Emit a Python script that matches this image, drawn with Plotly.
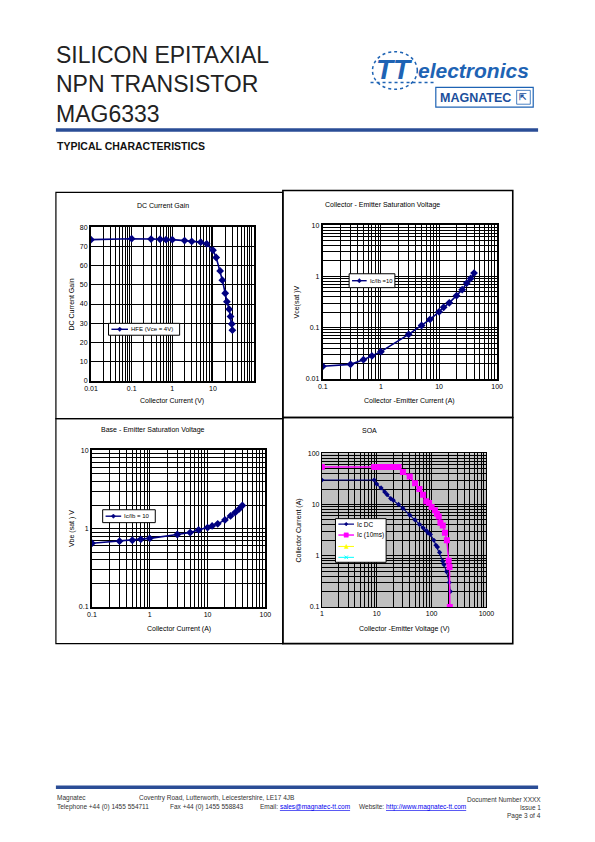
import math
import plotly.graph_objects as go

# page is 595x842; the figure sits inside the page body's default 8px margin
PAGE_W, PAGE_H = 595, 842
OFF = 8
W, H = PAGE_W - 2 * OFF, PAGE_H - 2 * OFF

# ---------------- data ----------------
hfe_ic = [0.01, 0.1, 0.3, 0.5, 0.7, 1, 2, 3, 5, 7, 10, 12, 15, 17, 20, 22, 25, 27, 29, 30]
hfe_val = [73.5, 74.0, 73.8, 73.7, 73.5, 73.5, 73.0, 72.6, 72.2, 71.3, 68.0, 64.2, 57.2, 52.4,
           45.6, 41.2, 37.3, 33.5, 29.6, 26.4]

vce_ic = [0.1, 0.3, 0.5, 0.7, 1, 3, 5, 7, 10, 12, 15, 20, 25, 30, 35, 40]
vce_sat = [0.0176, 0.0192, 0.0237, 0.028, 0.034, 0.074, 0.11, 0.145, 0.204, 0.25, 0.305,
           0.42, 0.55, 0.74, 0.915, 1.16]

vbe_ic = [0.1, 0.3, 0.5, 0.7, 1, 3, 5, 7, 10, 12, 15, 20, 25, 30, 35, 40]
vbe_sat = [0.65, 0.69, 0.71, 0.73, 0.75, 0.84, 0.89, 0.96, 1.03, 1.08, 1.15, 1.29, 1.45,
           1.60, 1.77, 1.97]

soa_dc_v = [1, 9, 10, 12, 14, 15.5, 18, 20, 25, 30, 40, 50, 60, 70, 80, 86, 95, 110, 120,
            128, 140, 160, 168, 187, 210, 220]
soa_dc_i = [30, 30, 25, 21, 17.6, 15.5, 13, 12.1, 10, 8.4, 6.2, 5.0, 4.1, 3.5, 3.1, 2.8, 2.6,
            2.0, 1.6, 1.47, 1.16, 0.78, 0.67, 0.49, 0.30, 0.20]

soa_10ms_v = [1, 9, 10, 11, 12, 13, 14, 15, 16, 18, 20, 25, 30, 40, 50, 60, 70, 80, 90, 100,
              115, 125, 135, 145, 160, 175, 190, 205, 212, 215]
soa_10ms_i = [54, 54, 54, 54, 54, 54, 54, 54, 54, 54, 54, 54, 43, 35, 26, 20, 15.5, 11.5, 10.7,
              8.9, 7.7, 6.6, 5.8, 4.4, 3.9, 2.8, 2.0, 0.8, 0.6, 0.1]

soa_s3_v, soa_s3_i = [], []
soa_s4_v, soa_s4_i = [], []

chart_titles = ["DC Current Gain", "Collector - Emitter Saturation Voltage",
                "Base - Emitter Saturation Voltage", "SOA"]
x_titles = ["Collector Current (V)", "Collector -Emitter Current (A)",
            "Collector Current (A)", "Collector -Emitter Voltage (V)"]
y_titles = ["DC Current Gain", "Vce(sat )V", "Vbe (sat ) V", "Collector Current (A)"]
series_names = ["HFE (Vce = 4V)", "Ic/Ib =10", "Ic/Ib = 10", "Ic DC", "Ic (10ms)", "", ""]

x1_ticks = [0.01, 0.1, 1, 10]
x1_labels = ["0.01", "0.1", "1", "10"]
y1_ticks = [0, 10, 20, 30, 40, 50, 60, 70, 80]
x2_ticks = [0.1, 1, 10, 100]
x2_labels = ["0.1", "1", "10", "100"]
y2_ticks = [0.01, 0.1, 1, 10]
y2_labels = ["0.01", "0.1", "1", "10"]
y3_ticks = [0.1, 1, 10]
y3_labels = ["0.1", "1", "10"]
x4_ticks = [1, 10, 100, 1000]
x4_labels = ["1", "10", "100", "1000"]
y4_ticks = [0.1, 1, 10, 100]
y4_labels = ["0.1", "1", "10", "100"]

NAVY = "#000080"
MAG = "#FF00FF"
BLUE = "#2a4d96"
LOGO = "#1e63b4"
FONT = "Liberation Sans, Arial, sans-serif"


def X(p):
    return (p - OFF) / W


def Y(p):
    return 1 - (p - OFF) / H


def minor_vals(lo, hi):
    vals = []
    for e in range(int(round(math.log10(lo))), int(round(math.log10(hi)))):
        for m in range(2, 10):
            vals.append(m * 10 ** e)
    return vals


fig = go.Figure()

# plot area boxes in page pixel coords (x0, x1, y0(top), y1(bottom))
boxes = [(86, 253, 225, 380), (324, 503, 223, 378), (87, 265, 450, 608), (323, 492, 453, 608)]

fig.add_trace(go.Scatter(x=hfe_ic, y=hfe_val, mode="lines+markers", xaxis="x", yaxis="y",
                         line=dict(color=NAVY, width=1.6),
                         marker=dict(symbol="diamond", size=6, color=NAVY), showlegend=False))
fig.add_trace(go.Scatter(x=vce_ic, y=vce_sat, mode="lines+markers", xaxis="x2", yaxis="y2",
                         line=dict(color=NAVY, width=1.6),
                         marker=dict(symbol="diamond", size=6, color=NAVY), showlegend=False))
fig.add_trace(go.Scatter(x=vbe_ic, y=vbe_sat, mode="lines+markers", xaxis="x3", yaxis="y3",
                         line=dict(color=NAVY, width=1.6),
                         marker=dict(symbol="diamond", size=6, color=NAVY), showlegend=False))
fig.add_trace(go.Scatter(x=soa_dc_v, y=soa_dc_i, mode="lines+markers", xaxis="x4", yaxis="y4",
                         line=dict(color=NAVY, width=1.1),
                         marker=dict(symbol="diamond", size=4, color=NAVY), showlegend=False))
fig.add_trace(go.Scatter(x=soa_10ms_v, y=soa_10ms_i, mode="lines+markers", xaxis="x4", yaxis="y4",
                         line=dict(color=MAG, width=1.5),
                         marker=dict(symbol="square", size=6, color=MAG), showlegend=False))
fig.add_trace(go.Scatter(x=soa_s3_v, y=soa_s3_i, mode="lines+markers", xaxis="x4", yaxis="y4",
                         line=dict(color="#FFFF00", width=1),
                         marker=dict(symbol="triangle-up", size=5, color="#FFFF00"), showlegend=False))
fig.add_trace(go.Scatter(x=soa_s4_v, y=soa_s4_i, mode="lines+markers", xaxis="x4", yaxis="y4",
                         line=dict(color="#00FFFF", width=1),
                         marker=dict(symbol="x", size=5, color="#00FFFF"), showlegend=False))

tickfont = dict(family=FONT, size=7, color="black")


def ax(domain, log, rng, tickvals, ticktext, minor=None, lw=2):
    d = dict(domain=domain, type="log" if log else "linear", range=rng,
             tickmode="array", tickvals=tickvals, ticktext=ticktext,
             showgrid=True, gridcolor="black", gridwidth=0.7,
             showline=True, mirror=True, linecolor="black", linewidth=lw,
             ticks="", tickfont=tickfont, zeroline=False, fixedrange=True)
    if minor is not None:
        d["minor"] = dict(tickmode="array", tickvals=minor, showgrid=True,
                          gridcolor="black", gridwidth=0.5, ticks="")
    return d


def xd(b):
    return [X(b[0]), X(b[1])]


def yd(b):
    return [Y(b[3]), Y(b[2])]


layout = dict(
    width=W, height=H, autosize=False, margin=dict(l=0, r=0, t=0, b=0, pad=0),
    paper_bgcolor="white", plot_bgcolor="white", showlegend=False,
    font=dict(family=FONT, size=7, color="black"),
    xaxis=ax(xd(boxes[0]), True, [-2, 2], x1_ticks, x1_labels, minor_vals(0.01, 100)),
    yaxis=ax(yd(boxes[0]), False, [0, 80], y1_ticks, [str(v) for v in y1_ticks]),
    xaxis2=ax(xd(boxes[1]), True, [-1, 2], x2_ticks, x2_labels, minor_vals(0.1, 100)),
    yaxis2=ax(yd(boxes[1]), True, [-2, 1], y2_ticks, y2_labels, minor_vals(0.01, 10)),
    xaxis3=ax(xd(boxes[2]), True, [-1, 2], x2_ticks, x2_labels, minor_vals(0.1, 100)),
    yaxis3=ax(yd(boxes[2]), True, [-1, 1], y3_ticks, y3_labels, minor_vals(0.1, 10)),
    xaxis4=ax(xd(boxes[3]), True, [0, 3], x4_ticks, x4_labels, minor_vals(1, 1000), lw=1),
    yaxis4=ax(yd(boxes[3]), True, [-1, 2], y4_ticks, y4_labels, minor_vals(0.1, 100), lw=1),
)
for i in range(1, 5):
    s = "" if i == 1 else str(i)
    layout["xaxis" + s]["anchor"] = "y" + s
    layout["yaxis" + s]["anchor"] = "x" + s
fig.update_layout(**layout)

shapes = []
ann = []


def rect(x0, y0, x1, y1, color="black", width=1, fill=None, layer="below", dash=None):
    shapes.append(dict(type="rect", xref="paper", yref="paper", x0=X(x0), x1=X(x1),
                       y0=Y(y0), y1=Y(y1), line=dict(color=color, width=width, dash=dash),
                       fillcolor=fill, layer=layer))


def hline(x0, x1, y, color, width, dash=None, layer="above"):
    shapes.append(dict(type="line", xref="paper", yref="paper", x0=X(x0), x1=X(x1),
                       y0=Y(y), y1=Y(y), line=dict(color=color, width=width, dash=dash),
                       layer=layer))


def text(x, y, s, size=7, xanchor="center", color="black", angle=0, weight="normal",
         family=FONT, style="normal", yanchor="middle"):
    ann.append(dict(xref="paper", yref="paper", x=X(x), y=Y(y), text=s, showarrow=False,
                    xanchor=xanchor, yanchor=yanchor, textangle=angle, borderpad=0,
                    font=dict(family=family, size=size, color=color, weight=weight, style=style)))


# gray background of SOA plot
shapes.append(dict(type="rect", xref="x4 domain", yref="y4 domain", x0=0, x1=1, y0=0, y1=1,
                   fillcolor="#c0c0c0", line=dict(width=0), layer="below"))

# panel frames
rect(50, 190, 283, 418, width=1.2)
rect(283, 188, 519, 417, width=1.6)
rect(50, 418, 283, 645, width=1.2)
rect(283, 417, 519, 645, width=1.6)

# chart titles and axis titles
title_pos = [(160, 203), (385, 203), (150, 430), (372, 430)]
xt_y = [400, 400, 630, 630]
yt_x = [66, 298, 66, 300]
for i in range(4):
    b = boxes[i]
    text(title_pos[i][0], title_pos[i][1], chart_titles[i], size=7)
    text((b[0] + b[1]) / 2, xt_y[i], x_titles[i], size=7)
    text(yt_x[i], (b[2] + b[3]) / 2, y_titles[i], size=7, angle=-90)


# legends (drawn as boxes with sample symbols)
def diamond(cx, cy, r, color):
    p = f"M {X(cx)},{Y(cy - r)} L {X(cx + r)},{Y(cy)} L {X(cx)},{Y(cy + r)} L {X(cx - r)},{Y(cy)} Z"
    shapes.append(dict(type="path", xref="paper", yref="paper", path=p, fillcolor=color,
                       line=dict(color=color, width=0.5), layer="above"))


def square(cx, cy, r, color):
    rect(cx - r, cy - r, cx + r, cy + r, color=color, width=0.5, fill=color, layer="above")


def triangle(cx, cy, r, color):
    p = f"M {X(cx)},{Y(cy - r)} L {X(cx + r)},{Y(cy + r)} L {X(cx - r)},{Y(cy + r)} Z"
    shapes.append(dict(type="path", xref="paper", yref="paper", path=p, fillcolor=color,
                       line=dict(color=color, width=0.5), layer="above"))


def cross(cx, cy, r, color):
    for d in (1, -1):
        shapes.append(dict(type="line", xref="paper", yref="paper", x0=X(cx - r), x1=X(cx + r),
                           y0=Y(cy - d * r), y1=Y(cy + d * r), line=dict(color=color, width=1),
                           layer="above"))


def legend_entry(x0, x1, y, color, width, sym, name, r=2.2, fsize=6):
    hline(x0, x1, y, color, width)
    sym((x0 + x1) / 2, y, r, color)
    if name:
        text(x1 + 2, y, name, size=fsize, xanchor="left")


rect(104, 322, 177, 334, width=1, fill="white", layer="above")
legend_entry(107, 124, 328, NAVY, 1.4, diamond, series_names[0], fsize=6)
rect(351, 272, 398, 286, width=1, fill="white", layer="above")
legend_entry(354, 369, 279, NAVY, 1.4, diamond, series_names[1], fsize=5.8)
rect(98, 510, 152, 523, width=1, fill="white", layer="above")
legend_entry(101, 117, 516.5, NAVY, 1.4, diamond, series_names[2], fsize=6)
rect(337, 519, 389, 563, width=1, fill="white", layer="above")
legend_entry(340, 356, 524.5, NAVY, 1.2, diamond, series_names[3], r=1.8, fsize=6.5)
legend_entry(340, 356, 535.5, MAG, 1.4, square, series_names[4], r=2.2, fsize=6.5)
legend_entry(340, 356, 547, "#FFFF00", 1, triangle, series_names[5], r=2)
legend_entry(340, 356, 558, "#00FFFF", 1, cross, series_names[6], r=1.8)

# ---------------- header ----------------
for i, line in enumerate(["SILICON EPITAXIAL", "NPN TRANSISTOR", "MAG6333"]):
    text(49, 51 + 30 * i, line, size=23, xanchor="left", color="#222222")
hline(50, 545, 127, BLUE, 3.5)
text(50, 143, "TYPICAL CHARACTERISTICS", size=10.5, xanchor="left", weight="bold",
     color="#111111")

# logo
shapes.append(dict(type="circle", xref="paper", yref="paper", x0=X(375), x1=X(421), y0=Y(48),
                   y1=Y(86), line=dict(color=LOGO, width=1.5, dash="dot"), layer="above"))
hline(373, 438, 79, LOGO, 1.5, dash="dot")
text(398, 66, "<b><i>TT</i></b>", size=28, color=LOGO)
text(421, 67, "<b><i>electronics</i></b>", size=21, xanchor="left", color=LOGO)
rect(440, 84, 540, 104, color=LOGO, width=1.2, layer="above")
text(443, 94.5, "<b>MAGNATEC</b>", size=12.5, xanchor="left", color="#1b4f9c")
rect(523, 87, 537, 101, color=LOGO, width=0.8, layer="above")
text(530, 94, "<b>⇱</b>", size=9, color="#1b4f9c")

# ---------------- footer ----------------
hline(50, 545, 790, BLUE, 3.5)
fs = 6.5
fc = "#333333"
text(50, 801, "Magnatec", size=fs, xanchor="left", color=fc)
text(134, 801, "Coventry Road, Lutterworth, Leicestershire, LE17 4JB", size=fs,
     xanchor="left", color=fc)
text(549, 802, "Document Number XXXX", size=fs, xanchor="right", color=fc)
text(50, 810, "Telephone +44 (0) 1455 554711", size=fs, xanchor="left", color=fc)
text(166, 810, "Fax +44 (0) 1455 558843", size=fs, xanchor="left", color=fc)
text(258, 810, 'Email: <span style="color:#0000ee;text-decoration:underline">sales@magnatec-tt.com</span>',
     size=fs, xanchor="left", color=fc)
text(360, 810, 'Website: <span style="color:#0000ee;text-decoration:underline">http://www.magnatec-tt.com</span>',
     size=fs, xanchor="left", color=fc)
text(549, 810, "Issue 1", size=fs, xanchor="right", color=fc)
text(549, 818.5, "Page 3 of 4", size=fs, xanchor="right", color=fc)

fig.update_layout(shapes=shapes, annotations=ann)
fig.write_html("out.html", config={"displayModeBar": False})
